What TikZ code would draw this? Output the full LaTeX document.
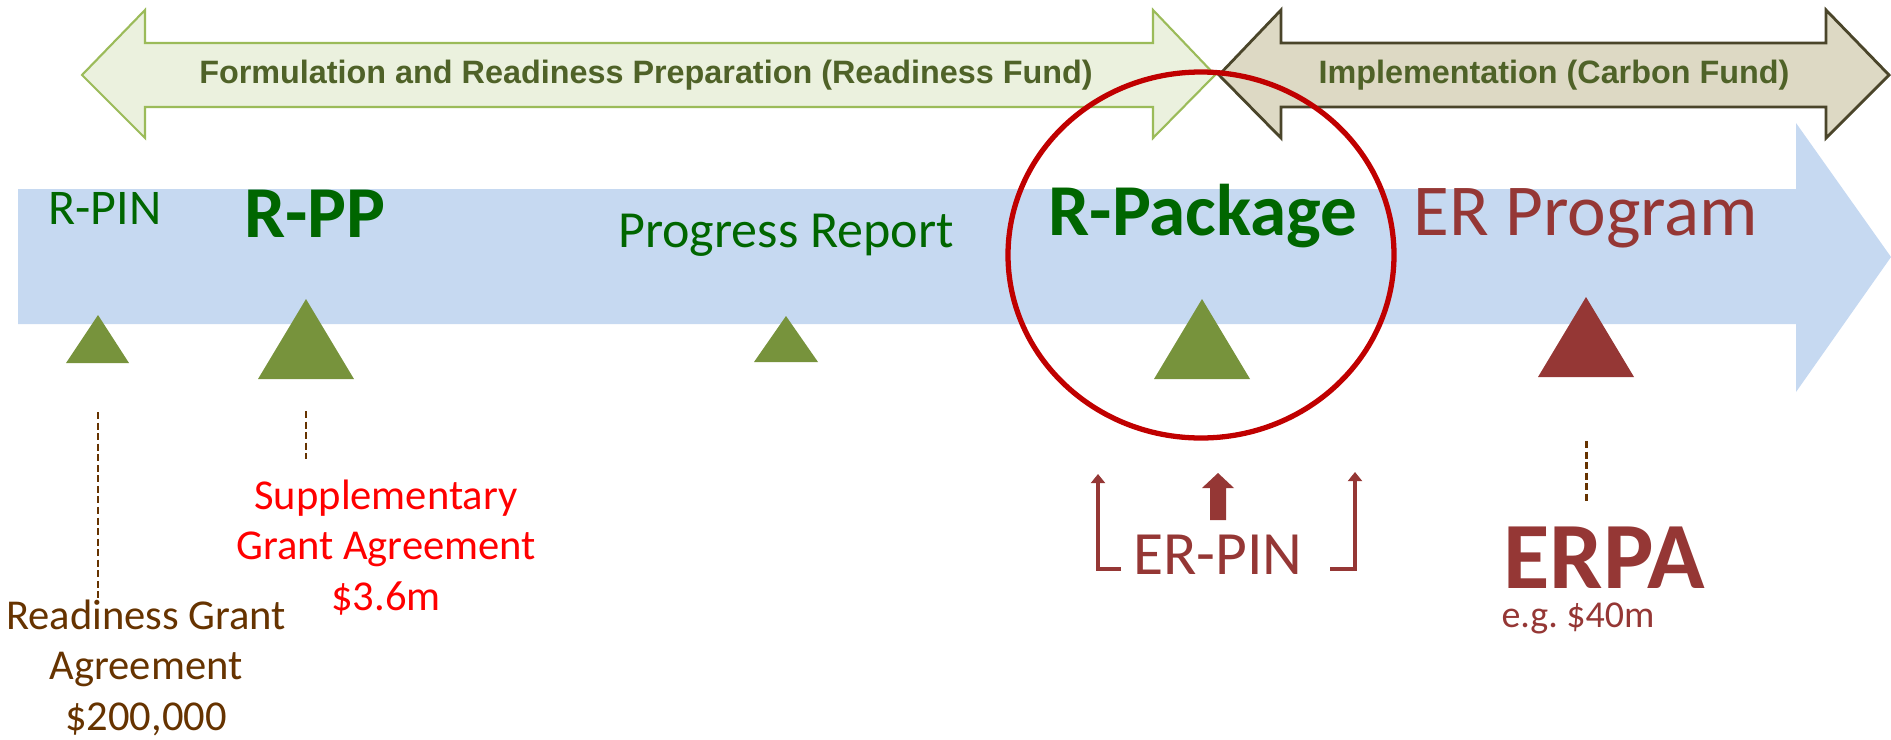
\documentclass[tikz,border=0pt]{standalone}
\usepackage{fontspec}
\setmainfont{Carlito}
\newfontfamily\bannerfont{Liberation Sans}
\usetikzlibrary{arrows.meta}
\definecolor{bandblue}{HTML}{C6D9F1}
\definecolor{readyfill}{HTML}{EBF1DE}
\definecolor{readyline}{HTML}{9BBB59}
\definecolor{carbfill}{HTML}{DDD9C4}
\definecolor{carbline}{HTML}{4A452A}
\definecolor{bannertext}{HTML}{4F6228}
\definecolor{stagegreen}{HTML}{006600}
\definecolor{trigreen}{HTML}{77933C}
\definecolor{erred}{HTML}{953735}
\definecolor{ringred}{HTML}{C00000}
\definecolor{grantbrown}{HTML}{663300}
\tikzset{banner/.style = {font = \bannerfont\bfseries\fontsize{9.2}{11}\selectfont,text = bannertext},
stage/.style = {anchor = base,inner sep = 0pt,text = stagegreen,font = \fontsize{14.2}{17}\selectfont},
bigstage/.style = {stage,font = \bfseries\fontsize{20.8}{24}\selectfont},
grant/.style = {anchor = base,inner sep = 0pt,align = center,font = \fontsize{12.1}{14.3}\selectfont},
guide/.style = {grantbrown,line width = .85pt,dash pattern = on 2pt off 1pt},
erline/.style = {erred,line width = 1pt,-{Triangle[width = 4pt,length = 2.6pt]}}}

\begin{document}
\begin{tikzpicture}[x = .01cm,y = -.01cm]
\useasboundingbox (0,0) rectangle (1891,739);
% timeline band
\fill[bandblue] (18,189) -- (1796,189) -- (1796,123) -- (1891,257) -- (1796,392) -- (1796,324) -- (18,324) -- cycle;

% phase banners
\draw[readyline,fill = readyfill,line width = .6pt] (82,75) -- (145,10) -- (145,43) -- (1153,43) -- (1153,10) -- (1215,75) -- (1153,138) -- (1153,107) -- (145,107) -- (145,138) -- cycle;
\draw[carbline,fill = carbfill,line width = .8pt] (1219,75) -- (1281,10) -- (1281,43) -- (1826,43) -- (1826,10) -- (1889,75) -- (1826,138) -- (1826,107) -- (1281,107) -- (1281,138) -- cycle;
\node[banner] (ready) at (646,75) {Formulation and Readiness Preparation (Readiness Fund)};
\node[banner] (carbon) at (1554,75) {Implementation (Carbon Fund)};

% milestones
\fill[trigreen] (66,363) -- (98,315) -- (129,363) -- cycle;
\fill[trigreen] (258,379) -- (306,299) -- (354,379) -- cycle;
\fill[trigreen] (754,362) -- (786,316) -- (818,362) -- cycle;
\fill[trigreen] (1154,379) -- (1202,299) -- (1250,379) -- cycle;
\fill[erred] (1538,377) -- (1586,297) -- (1634,377) -- cycle;

\node[stage] (rpin) at (105,224) {R-PIN};
\node[bigstage] (rpp) at (315,237) {R-PP};
\node[stage,font = \fontsize{14.8}{17}\selectfont] (progress) at (786,247) {Progress Report};
\node[bigstage] (rpack) at (1203,235) {R-Package};
\node[stage,text = erred,font = \fontsize{20.8}{24}\selectfont] (erprog) at (1586,235) {ER Program};

\draw[ringred,line width = 1.5pt] (1201,255) ellipse [x radius = 193,y radius = 183];

% grants
\node[grant,text = red] (suppl) at (386,610) {Supplementary \\ Grant Agreement \\ \$3.6m};
\node[grant,text = grantbrown] (rgrant) at (146,730) {Readiness Grant \\ Agreement \\ \$200,000};
\coordinate (g1) at (98,412);
\coordinate (g2) at (306,411);
\coordinate (g2e) at (306,459);
\draw[guide] (g1) -- (98,600);
\draw[guide] (g2) -- (g2e);

% ER-PIN
\node[anchor = base,inner sep = 0pt,text = erred,font = \fontsize{17.5}{21}\selectfont] (erpin) at (1218,574) {ER-PIN};
\coordinate (bl) at (1121,569);
\coordinate (br) at (1330,569);
\draw[erline] (bl) -| (1098,474);
\draw[erline] (br) -| (1355,472);
\fill[erred] (1210,520) -- (1210,488) -- (1202,488) -- (1218,473) -- (1234,488) -- (1226,488) -- (1226,520) -- cycle;

% ERPA
\node[anchor = base,inner sep = 0pt,text = erred,font = \bfseries\fontsize{27}{32}\selectfont] (erpa) at (1604,588) {ERPA};
\node[anchor = base,inner sep = 0pt,text = erred,font = \fontsize{10.8}{12}\selectfont] (eg) at (1578,627) {e.g.~\$40m};
\coordinate (g3) at (1586,441);
\coordinate (g3e) at (1586,502);
\draw[guide] (g3) -- (g3e);
\end{tikzpicture}
\end{document}
